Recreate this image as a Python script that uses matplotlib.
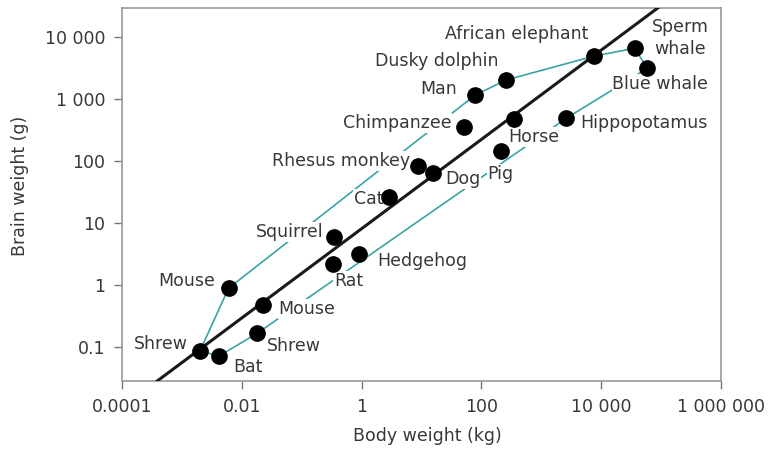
import matplotlib
matplotlib.use("Agg")
import matplotlib.pyplot as plt
import numpy as np

# ---- data ----
animals = ['Shrew', 'Bat', 'Shrew', 'Mouse', 'Mouse', 'Rat', 'Squirrel', 'Hedgehog',
           'Cat', 'Rhesus monkey', 'Dog', 'Chimpanzee', 'Man', 'Dusky dolphin',
           'Horse', 'Pig', 'Hippopotamus', 'African elephant', 'Sperm\nwhale', 'Blue whale']
body_kg = [0.002, 0.0042, 0.018, 0.023, 0.006, 0.33, 0.34, 0.89,
           2.9, 8.6, 15.5, 52, 79, 260,
           345, 210, 2600, 7700, 36000, 59000]
brain_g = [0.086, 0.072, 0.166, 0.475, 0.885, 2.18, 6.0, 3.16,
           26.6, 83, 63, 357, 1160, 2030,
           471, 147, 488, 4940, 6580, 3130]

# envelope (teal polygon) through these animals, by index
envelope_idx = [0, 4, 12, 13, 17, 18, 19, 16, 2, 1, 0]

# allometric fit: brain = coef * body ** exp
fit_coef = 8.1
fit_exp = 0.72

x_ticks = [1e-4, 1e-2, 1, 1e2, 1e4, 1e6]
x_tick_labels = ['0.0001', '0.01', '1', '100', '10 000', '1 000 000']
y_ticks = [0.1, 1, 10, 100, 1e3, 1e4]
y_tick_labels = ['0.1', '1', '10', '100', '1 000', '10 000']

# ---- layout of labels (pixel offsets, y up) ----
label_offsets = [(-12, 7, 'right'), (14, -11, 'left'), (10, -13, 'left'), (15, -4, 'left'),
                 (-13, 7, 'right'), (1, -17, 'left'), (-10, 5, 'right'), (19, -7, 'left'),
                 (-6, -2, 'right'), (-7, 5, 'right'), (12, -6, 'left'), (-13, 4, 'right'),
                 (-18, 6, 'right'), (-8, 19, 'right'), (-5, -18, 'left'), (0, -23, 'center'),
                 (14, -5, 'left'), (-6, 22, 'right'), (46, 10, 'center'), (13, -16, 'center')]

plt.rcParams['font.family'] = ['DejaVu Sans']
W, H = 768, 449
fs = 12.5
fig = plt.figure(figsize=(W / 100, H / 100), dpi=100)
ax = fig.add_axes([122 / W, 1 - 381 / H, (721 - 122) / W, (381 - 8) / H])
ax.set_xscale('log')
ax.set_yscale('log')
ax.set_xlim(1e-4, 1e6)
ax.set_ylim(10 ** -1.548, 10 ** 4.468)

teal = '#3aa3a3'
ex = [body_kg[i] for i in envelope_idx]
ey = [brain_g[i] for i in envelope_idx]
ax.plot(ex, ey, color=teal, lw=1.2, zorder=1, solid_joinstyle='round')

xs = np.logspace(-4, 6, 200)
ax.plot(xs, fit_coef * xs ** fit_exp, color='#1a1a1a', lw=2.2, zorder=3)

ax.plot(body_kg, brain_g, 'o', color='black', ms=11, zorder=4, clip_on=False)

for name, bx, by, (dx, dy, ha) in zip(animals, body_kg, brain_g, label_offsets):
    ax.annotate(name, (bx, by), xytext=(dx, dy), textcoords='offset pixels',
                ha=ha, va='center', fontsize=fs, color='#383838', zorder=2,
                linespacing=1.3, multialignment='center',
                bbox=dict(boxstyle='square,pad=0.05', fc='white', ec='none'))

ax.set_xticks(x_ticks)
ax.set_xticklabels(x_tick_labels)
ax.set_yticks(y_ticks)
ax.set_yticklabels(y_tick_labels)
ax.minorticks_off()
ax.tick_params(axis='both', which='major', direction='out', length=6, width=1,
               color='#777777', labelcolor='#383838', labelsize=fs, pad=6)
for sp in ax.spines.values():
    sp.set_color('#999999')
    sp.set_linewidth(1.2)

fig.text(427 / W, 1 - 436 / H, 'Body weight (kg)', ha='center', va='center',
         fontsize=fs, color='#383838')
fig.text(20 / W, 1 - 185.5 / H, 'Brain weight (g)', ha='center', va='center',
         rotation=90, fontsize=fs, color='#383838')

fig.savefig('out.png', dpi=100, facecolor='white')
